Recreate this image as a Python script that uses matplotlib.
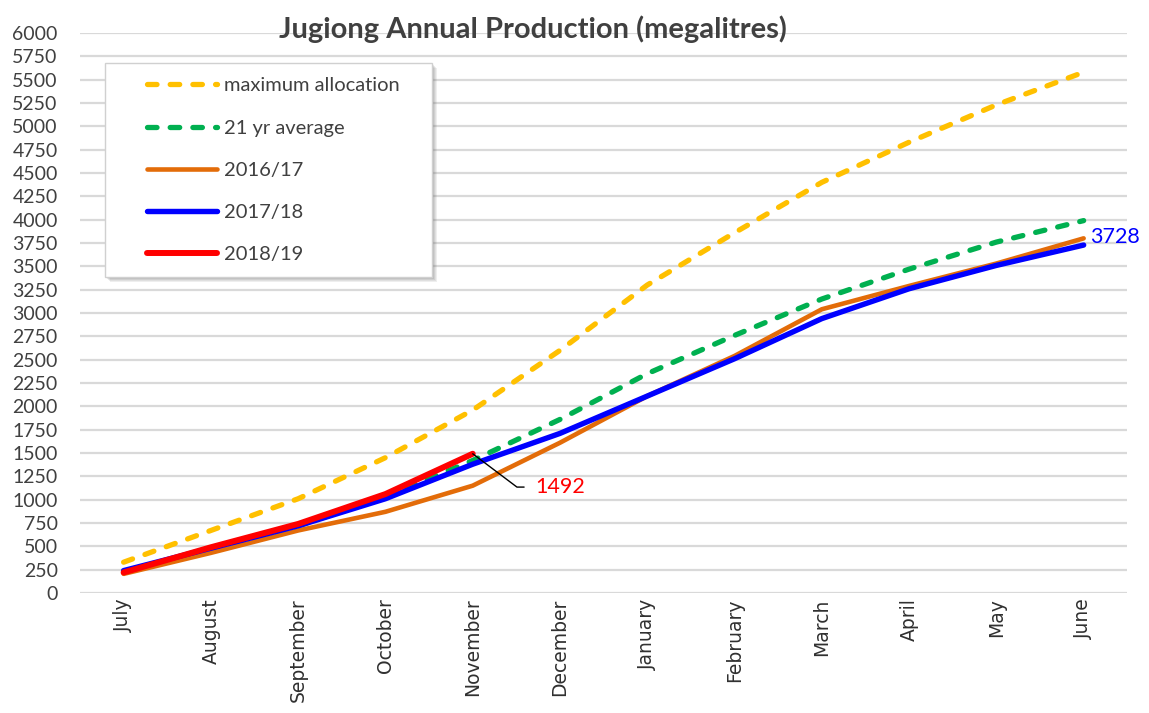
import matplotlib
matplotlib.use('Agg')

import matplotlib.pyplot as plt
import matplotlib.transforms as mtransforms
from matplotlib.patches import Rectangle
import numpy as np

months = ['July', 'August', 'September', 'October', 'November', 'December',
          'January', 'February', 'March', 'April', 'May', 'June']

max_alloc = [330, 670, 1010, 1450, 1960, 2600, 3300, 3860, 4400, 4830, 5230, 5580]
avg_21yr = [230, 470, 720, 1030, 1420, 1860, 2350, 2760, 3150, 3470, 3760, 3990]
y2016_17 = [205, 430, 670, 870, 1150, 1610, 2110, 2540, 3040, 3290, 3530, 3800]
y2017_18 = [240, 480, 720, 1010, 1380, 1710, 2110, 2510, 2940, 3260, 3510, 3728]
y2018_19 = [220, 490, 740, 1060, 1492]

plt.rcParams['font.family'] = ['Lato', 'DejaVu Sans']

x = np.arange(len(months))

fig = plt.figure(figsize=(11.49, 7.13), dpi=100)
ax = fig.add_axes([0.0696, 0.1683, 0.9115, 0.7854])

ax.plot(x, max_alloc, color='#FFC000', lw=3.8, dashes=(1.8, 2.5),
        dash_capstyle='round', label='maximum allocation', zorder=3)
ax.plot(x, avg_21yr, color='#00B050', lw=3.8, dashes=(1.8, 2.5),
        dash_capstyle='round', label='21 yr average', zorder=4)
ax.plot(x, y2016_17, color='#E36C09', lw=3.3, solid_capstyle='round',
        label='2016/17', zorder=5)
ax.plot(x, y2017_18, color='#0000FF', lw=3.9, solid_capstyle='round',
        label='2017/18', zorder=6)
ax.plot(x[:len(y2018_19)], y2018_19, color='#FF0000', lw=4.3,
        solid_capstyle='round', label='2018/19', zorder=7)

# data labels
ax.annotate(str(y2018_19[-1]), xy=(len(y2018_19) - 1, y2018_19[-1]),
            xytext=(45, -24), textcoords='offset points', color='#FF0000',
            fontsize=15.5, ha='left', va='center', zorder=8,
            arrowprops=dict(arrowstyle='-', color='black', lw=1,
                            shrinkA=6, shrinkB=0,
                            connectionstyle='angle,angleA=0,angleB=-37,rad=0'))
ax.annotate(str(y2017_18[-1]), xy=(x[-1], y2017_18[-1]),
            xytext=(5, 6), textcoords='offset points', color='#0000FF',
            fontsize=15.5, ha='left', va='center')

ax.set_xlim(-0.5, 11.5)
ax.set_ylim(0, 6000)
ax.set_yticks(np.arange(0, 6001, 250))
ax.tick_params(axis='y', length=0, labelsize=14, pad=16, labelcolor='#404040')
ax.set_xticks(x)
ax.set_xticklabels(months, rotation=90, fontsize=13.5, family='DejaVu Sans',
                   color='#303030')
ax.tick_params(axis='x', length=0, pad=4)

ax.grid(axis='y', color='#D9D9D9', lw=1.6, zorder=0)
ax.set_axisbelow(True)
for s in ax.spines.values():
    s.set_visible(False)

# legend frame with soft shadow
frame = (0.0239, 0.5643, 0.3123, 0.3821)
for i, a in enumerate([0.10, 0.10, 0.12, 0.14, 0.16]):
    off = 5 - i
    tr = ax.transAxes + mtransforms.ScaledTranslation(off / 100, -off / 100,
                                                      fig.dpi_scale_trans)
    ax.add_patch(Rectangle(frame[:2], frame[2], frame[3], transform=tr,
                           facecolor='#606060', edgecolor='none', alpha=a,
                           zorder=8.5, clip_on=False))
ax.add_patch(Rectangle(frame[:2], frame[2], frame[3], transform=ax.transAxes,
                       facecolor='white', edgecolor='#D0D0D0', lw=1,
                       zorder=9, clip_on=False))

leg = ax.legend(loc='upper left', bbox_to_anchor=(0.064, 0.921), fontsize=14.5,
                handlelength=3.5, handletextpad=0.3, labelspacing=1.25,
                borderpad=0, borderaxespad=0, frameon=False)
for t in leg.get_texts():
    t.set_color('#404040')
leg.set_zorder(10)

fig.text(0.464, 0.959, 'Jugiong Annual Production (megalitres)', ha='center',
         va='center', fontsize=21, fontweight='bold', color='#404040')

plt.savefig('out.png', dpi=100)
